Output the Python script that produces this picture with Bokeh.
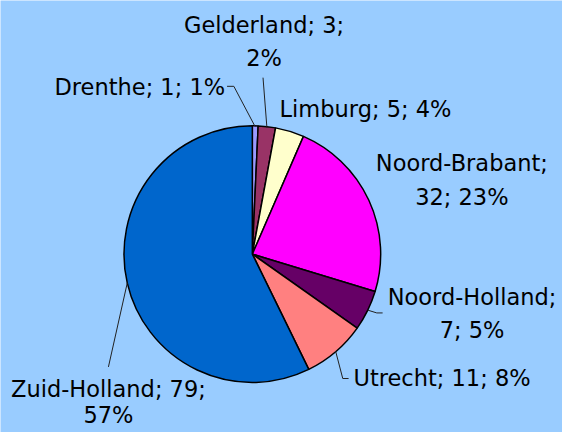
import math
from bokeh.plotting import figure
from bokeh.models import Range1d, ColumnDataSource
from bokeh.core.properties import value
from bokeh.embed import file_html
from bokeh.resources import INLINE

# ---- data ----
provinces = ["Drenthe", "Gelderland", "Limburg", "Noord-Brabant",
             "Noord-Holland", "Utrecht", "Zuid-Holland"]
counts = [1, 3, 5, 32, 7, 11, 79]
colors = ["#9999FF", "#993366", "#FFFFCC", "#FF00FF",
          "#660066", "#FF8080", "#0066CC"]

# ---- layout (reference pixel coordinates, y downward) ----
W, H = 562, 432          # figure size in screen pixels
RW, RH = 578, 448        # reference coordinate space
CX, CY, R = 259, 263, 132
FONT = value("DejaVu Sans")
FSIZE = "22.5px"
LINE = 34.5
BASE_SHIFT = 8.5         # compensation for svg baseline placement

label_layout = {
    "Drenthe":       dict(x=231, y=98,    align="right",  brk=None),
    "Gelderland":    dict(x=271, y=34,    align="center", brk=2),
    "Limburg":       dict(x=287, y=121,   align="left",   brk=None),
    "Noord-Brabant": dict(x=474.5, y=177.5, align="center", brk=1),
    "Noord-Holland": dict(x=485, y=315.5, align="center", brk=1),
    "Utrecht":       dict(x=363, y=400,   align="left",   brk=None),
    "Zuid-Holland":  dict(x=111, y=411,   align="center", brk=2, y2=438),
}
leader_layout = {
    "Drenthe":       [(240, 89), (233, 89)],
    "Gelderland":    [(270, 80)],
    "Noord-Holland": [(387, 324), (393, 324)],
    "Utrecht":       [(352, 392), (358, 392)],
    "Zuid-Holland":  [(111, 380)],
}

def Y(y):
    return RH - y

p = figure(width=W, height=H, x_range=Range1d(0, RW), y_range=Range1d(0, RH),
           output_backend="svg", toolbar_location=None, min_border=0,
           x_axis_type=None, y_axis_type=None,
           background_fill_color="#99CCFF", border_fill_color="#99CCFF",
           outline_line_color=None)
p.grid.visible = False

total = sum(counts)
starts, ends, mids = [], [], []
cum = 0
for c in counts:
    a0 = math.pi / 2 - 2 * math.pi * cum / total
    a1 = math.pi / 2 - 2 * math.pi * (cum + c) / total
    starts.append(a0)
    ends.append(a1)
    mids.append((a0 + a1) / 2)
    cum += c

src = ColumnDataSource(dict(start=starts, end=ends, color=colors,
                            x=[CX] * len(counts), y=[Y(CY)] * len(counts)))
p.wedge(x="x", y="y", radius=R, start_angle="start", end_angle="end",
        direction="clock", fill_color="color", line_color="black",
        line_width=1.5, source=src)

# leader lines from the mid-angle point on the pie edge
for name, m in zip(provinces, mids):
    if name not in leader_layout:
        continue
    ex = CX + R * math.cos(m)
    ey = Y(CY) + R * math.sin(m)
    xs = [ex] + [pt[0] for pt in leader_layout[name]]
    ys = [ey] + [Y(pt[1]) for pt in leader_layout[name]]
    p.line(xs, ys, line_color="#222222", line_width=1)

# labels
tx, ty, tt, ta = [], [], [], []
for name, c in zip(provinces, counts):
    pct = f"{round(100 * c / total)}%"
    parts = [name, str(c), pct]
    L = label_layout[name]
    if L["brk"] is None:
        lines = ["; ".join(parts)]
    else:
        lines = ["; ".join(parts[:L["brk"]]) + ";", "; ".join(parts[L["brk"]:])]
    for i, ln in enumerate(lines):
        yy = L["y"] + i * LINE
        if i == 1 and "y2" in L:
            yy = L["y2"]
        tx.append(L["x"])
        ty.append(Y(yy - BASE_SHIFT))
        tt.append(ln)
        ta.append(L["align"])

p.text(x=tx, y=ty, text=tt, text_align=ta, text_baseline="alphabetic",
       text_font=FONT, text_font_size=FSIZE, text_color="black")

open("out.html", "w").write(file_html(p, INLINE))
